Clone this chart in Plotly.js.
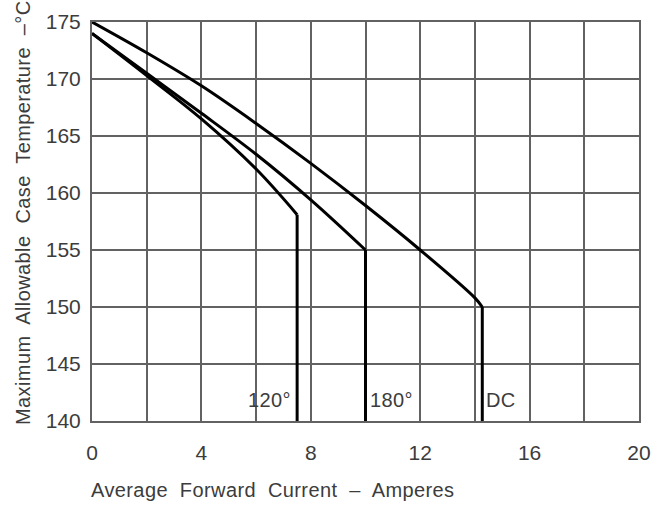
<!DOCTYPE html>
<html>
<head>
<meta charset="utf-8">
<script src="https://cdn.plot.ly/plotly-3.0.1.min.js"></script>
<style>
html, body { margin: 0; padding: 0; background: #fff; }
#chart { width: 672px; height: 505px; }
text.annotation-text { letter-spacing: 0.4px; }
</style>
</head>
<body>
<div id="chart"></div>
<script>
// ---- data ----
const dcX = [0, 2, 4, 6, 8, 10, 12, 14, 14.27, 14.27];
const dcY = [175, 172.3, 169.4, 166.1, 162.6, 158.9, 155.0, 150.8, 150, 140];

const deg180X = [0, 2, 4, 6, 8, 10, 10];
const deg180Y = [174, 170.5, 167.0, 163.4, 159.4, 155.0, 140];

const deg120X = [0, 2, 4, 6, 7.5, 7.5];
const deg120Y = [174, 170.3, 166.5, 162.1, 158.1, 140];

const curveLabels = ["120°", "180°", "DC"];
const curveLabelX = [6.5, 10.95, 14.95];
const curveLabelY = [141.8, 141.8, 141.8];

const xTickVals = [0, 4, 8, 12, 16, 20];
const yTickVals = [140, 145, 150, 155, 160, 165, 170, 175];

const xTitle = "Average  Forward  Current  –  Amperes";
const yTitle = "Maximum  Allowable  Case  Temperature  –°C";

// ---- chart ----
const FONT = "Liberation Sans, Arial, sans-serif";
const TXT = "#3c3c3c";
const GRID = "#626262";

const lineStyle = { color: "#000", width: 3 };
function curveTraces(xs, ys) {
  const n = xs.length;
  return [
    { x: xs.slice(0, n - 1), y: ys.slice(0, n - 1), mode: "lines",
      line: Object.assign({ shape: "spline", smoothing: 1 }, lineStyle), hoverinfo: "skip" },
    { x: xs.slice(n - 2), y: ys.slice(n - 2), mode: "lines", line: lineStyle, hoverinfo: "skip" }
  ];
}
const traces = [].concat(
  curveTraces(dcX, dcY),
  curveTraces(deg180X, deg180Y),
  curveTraces(deg120X, deg120Y)
);

const L = 92, R = 33, T = 22, B = 84, W = 672, H = 505;
const pw = W - L - R, ph = H - T - B;
const px2x = p => (p - L) / pw;
const py2y = p => (H - B - p) / ph;

const annotations = curveLabels.map((t, i) => ({
  text: t, x: curveLabelX[i], y: curveLabelY[i], xref: "x", yref: "y",
  showarrow: false, xanchor: "center", yanchor: "middle",
  font: { family: FONT, size: 20, color: TXT }
}));
annotations.push({
  text: xTitle, xref: "paper", yref: "paper", x: px2x(89), y: py2y(490),
  xanchor: "left", yanchor: "middle", showarrow: false,
  font: { family: FONT, size: 20, color: TXT }
});
annotations.push({
  text: yTitle, xref: "paper", yref: "paper", x: px2x(23), y: py2y(213),
  xanchor: "center", yanchor: "middle", textangle: -90, showarrow: false,
  font: { family: FONT, size: 20, color: TXT }
});

const layout = {
  width: W, height: H,
  margin: { l: L, r: R, t: T, b: B, pad: 0 },
  paper_bgcolor: "#fff", plot_bgcolor: "#fff",
  showlegend: false,
  font: { family: FONT, size: 21, color: TXT },
  xaxis: {
    range: [0, 20], tickvals: xTickVals, ticktext: xTickVals.map(String),
    showgrid: true, gridcolor: GRID, gridwidth: 2,
    minor: { dtick: 2, tick0: 0, showgrid: true, gridcolor: GRID, gridwidth: 2, ticks: "" },
    showline: true, linecolor: GRID, linewidth: 2, mirror: true,
    zeroline: false, ticks: "", ticklabelstandoff: 12,
    tickfont: { family: FONT, size: 21, color: TXT }, fixedrange: true
  },
  yaxis: {
    range: [140, 175], tickvals: yTickVals, ticktext: yTickVals.map(String),
    showgrid: true, gridcolor: GRID, gridwidth: 2,
    showline: true, linecolor: GRID, linewidth: 2, mirror: true,
    zeroline: false, ticks: "", ticklabelstandoff: 5,
    tickfont: { family: FONT, size: 21, color: TXT }, fixedrange: true
  },
  annotations: annotations
};

Plotly.newPlot("chart", traces, layout, { staticPlot: true, displayModeBar: false });
</script>
</body>
</html>
